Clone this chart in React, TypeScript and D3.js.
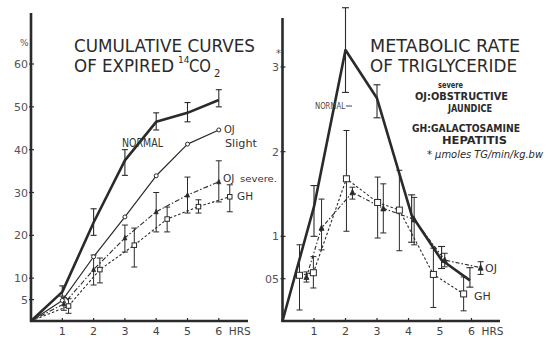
import React from "react";
import * as d3 from "d3";

const W = 551;
const H = 338;

type Err = [number, number] | null;

// ---------- Left panel: cumulative curves of expired 14CO2 (%) ----------
const hourTicks = [1, 2, 3, 4, 5, 6];
const cumYTicks = [5, 10, 20, 30, 40, 50, 60];

const cumNormalHours = [0, 1, 2, 3, 4, 5, 6];
const cumNormal = [0, 6.8, 23, 37.5, 46.5, 48.6, 51.6];
const cumNormalErr: Err[] = [null, [5.8, 8.2], [20, 26.2], [34, 40], [44.6, 48.6], [46.5, 51], [50, 54]];

const cumOjSlightHours = [0, 1, 2, 3, 4, 5, 6];
const cumOjSlight = [0, 4.8, 15, 24.3, 33.9, 41.3, 44.6];

const cumOjSevereHours = [0, 1.05, 2, 3, 4, 5, 6];
const cumOjSevere = [0, 4, 12, 19.4, 25.5, 29.4, 32.5];
const cumOjSevereErr: Err[] = [null, [2.5, 5.5], [8.4, 15.4], [16.1, 22.4], [20.8, 30], [25.2, 33.6], [27.8, 37.4]];

const cumGhHours = [0, 1.2, 2.2, 3.3, 4.35, 5.35, 6.35];
const cumGh = [0, 3.5, 12, 17.7, 23.8, 26.7, 29];
const cumGhErr: Err[] = [null, [1.8, 5.2], [8.9, 14.7], [12.6, 21.7], [20.8, 26.6], [25.2, 28.3], [25.5, 31.8]];

// ---------- Right panel: metabolic rate of triglyceride (µmoles TG/min/kg bw) ----------
const tgYTicks = [0.5, 1, 2, 3];
const tgYLabels = ["05", "1", "2", "3"];

const tgNormalHours = [0, 1, 2, 3, 4.1, 5.05, 5.95];
const tgNormal = [0, 1.35, 3.2, 2.63, 1.25, 0.72, 0.48];
const tgNormalErr: Err[] = [null, [1.0, 1.6], [2.7, 3.7], [2.4, 2.79], [0.93, 1.49], [0.62, 0.88], [0.4, 0.63]];

const tgOjHours = [0.76, 1.24, 2.22, 3.2, 4.18, 5.15, 6.29];
const tgOj = [0.52, 1.1, 1.52, 1.33, 1.2, 0.72, 0.63];
const tgOjErr: Err[] = [[0.46, 0.58], [0.84, 1.44], [1.44, 1.58], [1.04, 1.62], [0.9, 1.46], [0.64, 0.8], [0.55, 0.7]];

const tgGhHours = [0.54, 0.98, 2.03, 3.02, 3.71, 4.79, 5.75];
const tgGh = [0.54, 0.57, 1.68, 1.4, 1.31, 0.55, 0.32];
const tgGhErr: Err[] = [[0.13, 0.9], [0.39, 0.76], [1.06, 2.25], [0.98, 1.7], [0.83, 1.78], [0.16, 0.86], [0.12, 0.52]];

const INK = "#2a2a2a";
const FONT = "'DejaVu Sans', 'Liberation Sans', sans-serif";

type Pt = [number, number];
const zip = (xs: number[], ys: number[]): Pt[] => xs.map((x, i) => [x, ys[i]]);

function ErrorBars({ xs, errs, x, y, cap = 3, width = 1 }: any) {
  return (
    <g stroke={INK} strokeWidth={width} fill="none">
      {errs.map((e: Err, i: number) => {
        if (!e) return null;
        const px = x(xs[i]);
        const y0 = y(e[0]);
        const y1 = y(e[1]);
        return (
          <g key={i}>
            <line x1={px} x2={px} y1={y0} y2={y1} />
            <line x1={px - cap} x2={px + cap} y1={y0} y2={y0} />
            <line x1={px - cap} x2={px + cap} y1={y1} y2={y1} />
          </g>
        );
      })}
    </g>
  );
}

function Series({ pts, x, y, width, dash, color = INK }: any) {
  const line = d3
    .line<Pt>()
    .x((d) => x(d[0]))
    .y((d) => y(d[1]));
  return <path d={line(pts) || ""} fill="none" stroke={color} strokeWidth={width} strokeDasharray={dash} strokeLinejoin="round" />;
}

function Squares({ pts, x, y, s = 5 }: any) {
  return (
    <g fill="white" stroke={INK} strokeWidth={1}>
      {pts.map((p: Pt, i: number) => (
        <rect key={i} x={x(p[0]) - s / 2} y={y(p[1]) - s / 2} width={s} height={s} />
      ))}
    </g>
  );
}

function Triangles({ pts, x, y, s = 5 }: any) {
  return (
    <g fill={INK} stroke={INK} strokeWidth={0.8}>
      {pts.map((p: Pt, i: number) => {
        const cx = x(p[0]);
        const cy = y(p[1]);
        return <path key={i} d={`M${cx},${cy - s / 2 - 0.5}L${cx + s / 2},${cy + s / 2}L${cx - s / 2},${cy + s / 2}Z`} />;
      })}
    </g>
  );
}

function Circles({ pts, x, y, r = 2 }: any) {
  return (
    <g fill="white" stroke={INK} strokeWidth={1}>
      {pts.map((p: Pt, i: number) => (
        <circle key={i} cx={x(p[0])} cy={y(p[1])} r={r} />
      ))}
    </g>
  );
}

function Axes({ x, y, yTicks, yLabels, xEnd, yTop, labelX }: any) {
  const x0 = x(0);
  const y0 = y(0);
  return (
    <g>
      <line x1={x0} x2={x0} y1={yTop} y2={y0 + 1} stroke={INK} strokeWidth={2.6} />
      <line x1={x0 - 1} x2={xEnd} y1={y0} y2={y0} stroke={INK} strokeWidth={2.4} />
      {yTicks.map((t: number, i: number) => (
        <g key={t}>
          <line x1={x0 - 2} x2={x0 + 3} y1={y(t)} y2={y(t)} stroke={INK} strokeWidth={1.2} />
          <text x={labelX} y={y(t) + 4} fontSize={11} fill="#555" textAnchor="end" fontFamily={FONT}>
            {yLabels ? yLabels[i] : String(t)}
          </text>
        </g>
      ))}
      {hourTicks.map((h) => (
        <g key={h}>
          <line x1={x(h)} x2={x(h)} y1={y0 - 3} y2={y0 + 1} stroke={INK} strokeWidth={1.2} />
          <text x={x(h)} y={y0 + 14} fontSize={11} fill="#444" textAnchor="middle" fontFamily={FONT}>
            {String(h)}
          </text>
        </g>
      ))}
      <text x={x(6) + 10} y={y0 + 14} fontSize={11} fill="#444" fontFamily={FONT} textLength={22} lengthAdjust="spacingAndGlyphs">
        HRS
      </text>
    </g>
  );
}

export default function App() {
  // Left scales
  const xL = d3.scaleLinear().domain([0, 6]).range([31, 218.8]);
  const yL = d3.scaleLinear().domain([0, 60]).range([321, 64]);
  // Right scales
  const xR = d3.scaleLinear().domain([0, 6]).range([282.5, 471.5]);
  const yR = d3.scaleLinear().domain([0, 3]).range([321, 67]);

  return (
    <svg width={W} height={H} style={{ position: "fixed", left: 0, top: 0, background: "white" }} fontFamily={FONT}>
      <rect width={W} height={H} fill="white" />

      {/* ---------------- Left panel ---------------- */}
      <Axes x={xL} y={yL} yTicks={cumYTicks} xEnd={248} yTop={13} labelX={28} />
      <text x={20} y={46} fontSize={9} fill="#555">%</text>

      <text x={74} y={52} fontSize={17} fill={INK} textLength={181} lengthAdjust="spacingAndGlyphs">CUMULATIVE CURVES</text>
      <text x={74} y={72} fontSize={17} fill={INK} textLength={100} lengthAdjust="spacingAndGlyphs">OF EXPIRED</text>
      <text x={178} y={63} fontSize={9} fill={INK}>14</text>
      <text x={189} y={72} fontSize={17} fill={INK} textLength={22} lengthAdjust="spacingAndGlyphs">CO</text>
      <text x={214} y={77} fontSize={10} fill={INK}>2</text>

      <ErrorBars xs={cumNormalHours} errs={cumNormalErr} x={xL} y={yL} cap={3} width={1.1} />
      <ErrorBars xs={cumOjSevereHours} errs={cumOjSevereErr} x={xL} y={yL} cap={3} width={1} />
      <ErrorBars xs={cumGhHours} errs={cumGhErr} x={xL} y={yL} cap={3} width={1} />

      <Series pts={zip(cumNormalHours, cumNormal)} x={xL} y={yL} width={2.6} />
      <Series pts={zip(cumOjSlightHours, cumOjSlight)} x={xL} y={yL} width={1.2} />
      <Series pts={zip(cumOjSevereHours, cumOjSevere)} x={xL} y={yL} width={1.1} dash="5,2,1.5,2" />
      <Series pts={zip(cumGhHours, cumGh)} x={xL} y={yL} width={1.1} dash="2.5,2" />

      <Circles pts={zip(cumOjSlightHours, cumOjSlight).slice(1)} x={xL} y={yL} r={2} />
      <Triangles pts={zip(cumOjSevereHours, cumOjSevere).slice(1)} x={xL} y={yL} s={4} />
      <Squares pts={zip(cumGhHours, cumGh).slice(1)} x={xL} y={yL} s={4.5} />

      <text x={122} y={147} fontSize={11.5} fill="#333" textLength={41} lengthAdjust="spacingAndGlyphs">NORMAL</text>
      <text x={224} y={133} fontSize={10} fill="#333">OJ</text>
      <text x={225} y={147} fontSize={11} fill="#333" textLength={32} lengthAdjust="spacingAndGlyphs">Slight</text>
      <text x={223} y={182} fontSize={10.5} fill="#333">OJ</text>
      <text x={240} y={182} fontSize={9} fill="#333" textLength={37} lengthAdjust="spacingAndGlyphs">severe.</text>
      <text x={237} y={200} fontSize={10.5} fill="#333">GH</text>

      {/* ---------------- Right panel ---------------- */}
      <Axes x={xR} y={yR} yTicks={tgYTicks} yLabels={tgYLabels} xEnd={500} yTop={18} labelX={279} />
      <text x={276} y={57} fontSize={10} fill="#555">*</text>

      <text x={370} y={52} fontSize={17} fill={INK} textLength={150} lengthAdjust="spacingAndGlyphs">METABOLIC RATE</text>
      <text x={370} y={72} fontSize={17} fill={INK} textLength={147} lengthAdjust="spacingAndGlyphs">OF TRIGLYCERIDE</text>

      <text x={438} y={88} fontSize={9} fill={INK} fontWeight="bold" textLength={25} lengthAdjust="spacingAndGlyphs">severe</text>
      <text x={415} y={100} fontSize={11} fill={INK} fontWeight="bold" textLength={93} lengthAdjust="spacingAndGlyphs">OJ:OBSTRUCTIVE</text>
      <text x={448} y={112} fontSize={11} fill={INK} fontWeight="bold" textLength={44} lengthAdjust="spacingAndGlyphs">JAUNDICE</text>
      <text x={412} y={132} fontSize={11} fill={INK} fontWeight="bold" textLength={108} lengthAdjust="spacingAndGlyphs">GH:GALACTOSAMINE</text>
      <text x={442} y={144} fontSize={11} fill={INK} fontWeight="bold" textLength={65} lengthAdjust="spacingAndGlyphs">HEPATITIS</text>
      <text x={427} y={158} fontSize={10} fill={INK} fontStyle="italic" textLength={116} lengthAdjust="spacingAndGlyphs">* μmoles TG/min/kg.bw</text>

      <ErrorBars xs={tgNormalHours} errs={tgNormalErr} x={xR} y={yR} cap={3.5} width={1.1} />
      <ErrorBars xs={tgOjHours} errs={tgOjErr} x={xR} y={yR} cap={3} width={1} />
      <ErrorBars xs={tgGhHours} errs={tgGhErr} x={xR} y={yR} cap={3} width={1} />

      <Series pts={zip(tgNormalHours, tgNormal)} x={xR} y={yR} width={2.6} />
      <Series pts={zip(tgOjHours, tgOj)} x={xR} y={yR} width={1.1} dash="4,2,1.5,2" />
      <Series pts={zip(tgGhHours, tgGh)} x={xR} y={yR} width={1.1} dash="2.5,2" />

      <Triangles pts={zip(tgOjHours, tgOj)} x={xR} y={yR} s={5} />
      <Squares pts={zip(tgGhHours, tgGh)} x={xR} y={yR} s={6} />

      <text x={315} y={109} fontSize={9} fill="#444" textLength={30} lengthAdjust="spacingAndGlyphs">NORMAL</text>
      <line x1={346} x2={352} y1={106} y2={106} stroke="#444" strokeWidth={1} />
      <text x={485} y={272} fontSize={11} fill="#333">OJ</text>
      <text x={474} y={300} fontSize={11} fill="#333">GH</text>
    </svg>
  );
}
